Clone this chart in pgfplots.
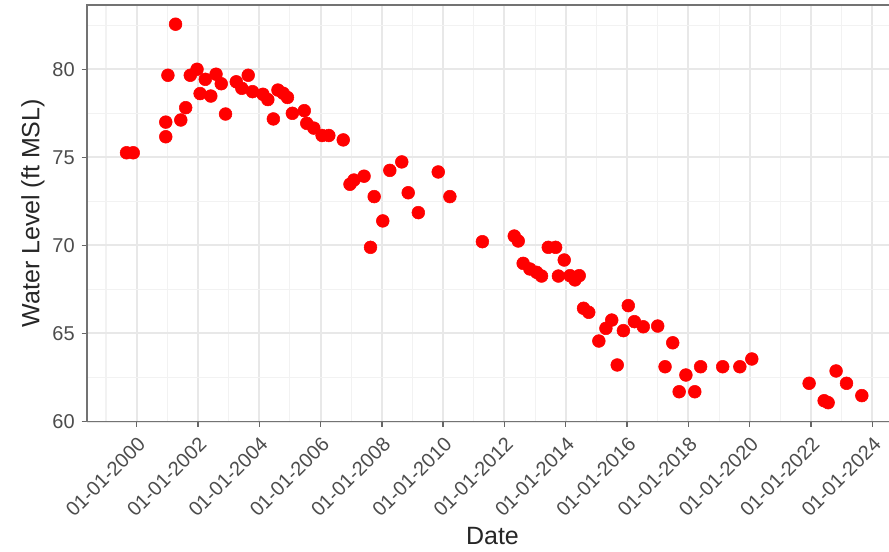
\documentclass[border=0pt]{standalone}
\usepackage{pgfplots}
\pgfplotsset{compat=1.18}
\usepackage{fontspec}
\setmainfont{Liberation Sans}
\begin{document}
\begin{tikzpicture}
\useasboundingbox (-65.25pt,-97.125pt) rectangle (601.5pt,316.125pt);
\begin{axis}[
  at={(0,0)}, anchor=south west,
  scale only axis, width=608.25pt, height=312.375pt,
  xmin=1998.38, xmax=2024.84, ymin=60, ymax=83.65,
  xtick={2000,2002,...,2024},
  xticklabels={01-01-2000,01-01-2002,01-01-2004,01-01-2006,01-01-2008,01-01-2010,01-01-2012,01-01-2014,01-01-2016,01-01-2018,01-01-2020,01-01-2022,01-01-2024},
  minor xtick={1999,2001,...,2023},
  ytick={60,65,...,80},
  minor ytick={62.5,67.5,72.5,77.5,82.5},
  grid=both,
  major grid style={line width=1.5pt, color=black!9},
  minor grid style={line width=0.8pt, color=black!5},
  axis line style={draw=black!55, line width=1.2pt},
  tick align=outside, tick pos=left,
  major tick length=4pt, minor tick length=0pt,
  every tick/.style={black!60, line width=1pt},
  /pgf/number format/assume math mode=true,
  ticklabel style={font=\fontsize{15pt}{18pt}\selectfont, text=black!70},
  xticklabel style={yshift=-5pt, rotate=45, anchor=north east, inner sep=1pt},
  yticklabel style={inner sep=2pt, xshift=-3pt},
  xlabel={Date}, ylabel={Water Level (ft MSL)},
  label style={font=\fontsize{18.75pt}{22pt}\selectfont, text=black!85},
  xlabel style={at={(axis description cs:0.5,-0.275)}, anchor=center},
  ylabel style={at={(axis description cs:-0.0666,0.5)}, anchor=center, rotate=0},
]
\addplot[only marks, mark=*, mark size=4.8pt, color=red, mark options={fill=red, draw=red}] coordinates {
(1999.67,75.26) (1999.89,75.26)
(2000.95,76.17) (2000.95,77.00) (2001.02,79.66) (2001.27,82.56)
(2001.44,77.12) (2001.60,77.82) (2001.75,79.66) (2001.97,80.00)
(2002.07,78.62) (2002.24,79.43) (2002.42,78.48) (2002.59,79.72)
(2002.76,79.18) (2002.90,77.46) (2003.25,79.29) (2003.43,78.92)
(2003.64,79.66) (2003.78,78.73) (2004.12,78.58) (2004.28,78.28)
(2004.46,77.18) (2004.61,78.82) (2004.78,78.64) (2004.92,78.40)
(2005.08,77.50) (2005.47,77.65) (2005.55,76.93) (2005.78,76.66)
(2006.05,76.24) (2006.27,76.24) (2006.74,75.99) (2006.96,73.47)
(2007.09,73.71) (2007.42,73.93) (2007.63,69.89) (2007.75,72.77)
(2008.03,71.39) (2008.26,74.26) (2008.65,74.74) (2008.86,72.99)
(2009.19,71.86) (2009.84,74.17) (2010.22,72.77) (2011.28,70.21)
(2012.32,70.53) (2012.45,70.25) (2012.61,68.98) (2012.83,68.66)
(2013.05,68.47) (2013.21,68.26) (2013.43,69.89) (2013.67,69.89)
(2013.76,68.26) (2013.95,69.17) (2014.14,68.28) (2014.30,68.04)
(2014.44,68.28) (2014.58,66.43) (2014.75,66.20) (2015.08,64.57)
(2015.31,65.29) (2015.50,65.76) (2015.68,63.21) (2015.88,65.16)
(2016.04,66.58) (2016.24,65.67) (2016.53,65.38) (2017.00,65.42)
(2017.24,63.11) (2017.49,64.47) (2017.70,61.69) (2017.92,62.64)
(2018.21,61.69) (2018.40,63.11) (2019.12,63.11) (2019.68,63.11)
(2020.07,63.55) (2021.94,62.17) (2022.43,61.18) (2022.56,61.07)
(2022.82,62.87) (2023.16,62.17) (2023.66,61.47)
};
\end{axis}
\end{tikzpicture}
\end{document}
